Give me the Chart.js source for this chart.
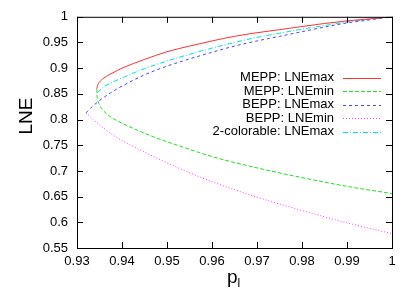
<!DOCTYPE html>
<html>
<head>
<meta charset="utf-8">
<script src="https://cdn.jsdelivr.net/npm/chart.js@4"></script>
<style>
  html, body { margin: 0; padding: 0; background: #fff; }
  #wrap { width: 415px; height: 290px; }
</style>
</head>
<body>
<div id="wrap"><canvas id="myChart" width="415" height="290"></canvas></div>
<script>
'use strict';

// values
let seriesNames = ["MEPP: LNEmax", "MEPP: LNEmin", "BEPP: LNEmax", "BEPP: LNEmin", "2-colorable: LNEmax"];

let meppMaxX = [0.9344, 0.9346, 0.935, 0.936, 0.938, 0.94, 0.945, 0.95, 0.955, 0.96, 0.965, 0.97, 0.975, 0.98, 0.985, 0.99, 0.995, 1.0];
let meppMaxY = [0.860, 0.867, 0.873, 0.881, 0.891, 0.900, 0.917, 0.932, 0.943, 0.953, 0.962, 0.969, 0.975, 0.981, 0.987, 0.992, 0.996, 1.0];

let meppMinX = [0.9344, 0.93445, 0.9347, 0.9352, 0.936, 0.9375, 0.94, 0.944, 0.948, 0.953, 0.96, 0.97, 0.98, 0.99, 1.0];
let meppMinY = [0.860, 0.846, 0.835, 0.825, 0.816, 0.805, 0.793, 0.777, 0.763, 0.748, 0.728, 0.706, 0.687, 0.670, 0.656];

let beppMaxX = [0.932, 0.933, 0.935, 0.938, 0.94, 0.945, 0.95, 0.955, 0.96, 0.965, 0.97, 0.975, 0.98, 0.985, 0.99, 0.995, 1.0];
let beppMaxY = [0.813, 0.822, 0.837, 0.855, 0.865, 0.887, 0.904, 0.918, 0.931, 0.943, 0.953, 0.962, 0.971, 0.980, 0.988, 0.994, 1.0];

let beppMinX = [0.932, 0.933, 0.934, 0.936, 0.938, 0.94, 0.944, 0.948, 0.953, 0.96, 0.97, 0.98, 0.99, 1.0];
let beppMinY = [0.813, 0.805, 0.797, 0.783, 0.770, 0.759, 0.741, 0.724, 0.704, 0.679, 0.649, 0.623, 0.599, 0.578];

let twoColX = [0.9345, 0.936, 0.938, 0.94, 0.945, 0.95, 0.955, 0.96, 0.965, 0.97, 0.975, 0.98, 0.985, 0.99, 0.995, 1.0];
let twoColY = [0.852, 0.864, 0.873, 0.881, 0.899, 0.914, 0.927, 0.939, 0.950, 0.960, 0.968, 0.976, 0.983, 0.990, 0.995, 1.0];

let xTickValues = [0.93, 0.94, 0.95, 0.96, 0.97, 0.98, 0.99, 1];
let yTickValues = [0.55, 0.6, 0.65, 0.7, 0.75, 0.8, 0.85, 0.9, 0.95, 1];

(function () {
  let fontFamily = '"Liberation Sans", Arial, Helvetica, sans-serif';
  let chartContext = document.getElementById("myChart").getContext("2d");

  let toPoints = (xs, ys) => xs.map((x, i) => ({ x: x, y: ys[i] }));

  let lineStyles = [
    { color: 'rgb(255, 50, 50)', dash: [] },
    { color: 'rgb(40, 220, 40)', dash: [4, 2] },
    { color: 'rgb(70, 70, 255)', dash: [3, 3] },
    { color: 'rgb(255, 60, 255)', dash: [1, 2] },
    { color: 'rgb(0, 225, 225)', dash: [5, 2, 1, 2] }
  ];

  let seriesData = [
    toPoints(meppMaxX, meppMaxY),
    toPoints(meppMinX, meppMinY),
    toPoints(beppMaxX, beppMaxY),
    toPoints(beppMinX, beppMinY),
    toPoints(twoColX, twoColY)
  ];

  let datasets = seriesData.map((pts, i) => ({
    label: seriesNames[i],
    data: pts,
    showLine: true,
    borderColor: lineStyles[i].color,
    borderDash: lineStyles[i].dash,
    borderWidth: 1,
    pointRadius: 0,
    fill: false,
    cubicInterpolationMode: 'monotone'
  }));

  let fixTicks = values => scale => {
    scale.ticks = values.map(v => ({ value: v }));
  };
  let fmt = v => String(parseFloat(Number(v).toFixed(2)));

  // gnuplot style frame, inside ticks, legend and axis titles
  let framePlugin = {
    id: 'frame',
    afterDraw(chart) {
      let ctx = chart.ctx;
      let a = chart.chartArea;
      let xs = chart.scales.x;
      let ys = chart.scales.y;
      let tl = 6;
      ctx.save();
      ctx.strokeStyle = '#000';
      ctx.lineWidth = 1;
      ctx.setLineDash([]);
      ctx.beginPath();
      xs.ticks.forEach(t => {
        let px = Math.round(xs.getPixelForValue(t.value)) + 0.5;
        ctx.moveTo(px, a.bottom); ctx.lineTo(px, a.bottom - tl);
        ctx.moveTo(px, a.top); ctx.lineTo(px, a.top + tl);
      });
      ys.ticks.forEach(t => {
        let py = Math.round(ys.getPixelForValue(t.value)) + 0.5;
        ctx.moveTo(a.left, py); ctx.lineTo(a.left + tl, py);
        ctx.moveTo(a.right, py); ctx.lineTo(a.right - tl, py);
      });
      ctx.stroke();
      ctx.strokeRect(a.left + 0.5, a.top + 0.5, a.right - a.left, a.bottom - a.top);

      // legend
      ctx.font = '13px ' + fontFamily;
      ctx.fillStyle = '#000';
      ctx.textAlign = 'right';
      ctx.textBaseline = 'middle';
      chart.data.datasets.forEach((ds, i) => {
        let y = 77.5 + i * 13.5;
        ctx.fillText(ds.label, 334, y);
        ctx.beginPath();
        ctx.strokeStyle = ds.borderColor;
        ctx.setLineDash(ds.borderDash);
        ctx.moveTo(343, Math.round(y) + 0.5);
        ctx.lineTo(381, Math.round(y) + 0.5);
        ctx.stroke();
      });
      ctx.setLineDash([]);

      // y title
      ctx.save();
      ctx.translate(27, 116);
      ctx.rotate(-Math.PI / 2);
      ctx.font = '19px ' + fontFamily;
      ctx.textAlign = 'center';
      ctx.textBaseline = 'middle';
      ctx.fillText('LNE', 0, 0);
      ctx.restore();

      // x title: p with subscript l
      ctx.textAlign = 'left';
      ctx.textBaseline = 'alphabetic';
      ctx.font = '19px ' + fontFamily;
      let pw = ctx.measureText('p').width;
      ctx.fillText('p', 227, 283);
      ctx.font = '12px ' + fontFamily;
      ctx.fillText('l', 227 + pw, 287);
      ctx.restore();
    }
  };

  new Chart(chartContext, {
    type: 'scatter',
    data: { datasets },
    options: {
      responsive: false,
      animation: false,
      layout: { padding: { left: 0, right: 23, top: 15, bottom: 0 } },
      plugins: {
        legend: { display: false },
        tooltip: { enabled: false }
      },
      scales: {
        x: {
          type: 'linear',
          min: 0.93,
          max: 1,
          afterBuildTicks: fixTicks(xTickValues),
          afterFit: scale => { scale.height = 42; },
          grid: { display: false, drawTicks: false },
          border: { display: false },
          ticks: {
            padding: 6,
            color: '#000',
            font: { family: fontFamily, size: 13 },
            maxRotation: 0,
            autoSkip: false,
            callback: v => fmt(v)
          }
        },
        y: {
          type: 'linear',
          min: 0.55,
          max: 1,
          afterBuildTicks: fixTicks(yTickValues),
          afterFit: scale => { scale.width = 77; },
          grid: { display: false, drawTicks: false },
          border: { display: false },
          ticks: {
            padding: 9,
            color: '#000',
            font: { family: fontFamily, size: 13 },
            autoSkip: false,
            callback: v => fmt(v)
          }
        }
      }
    },
    plugins: [framePlugin]
  });
})();
</script>
</body>
</html>
